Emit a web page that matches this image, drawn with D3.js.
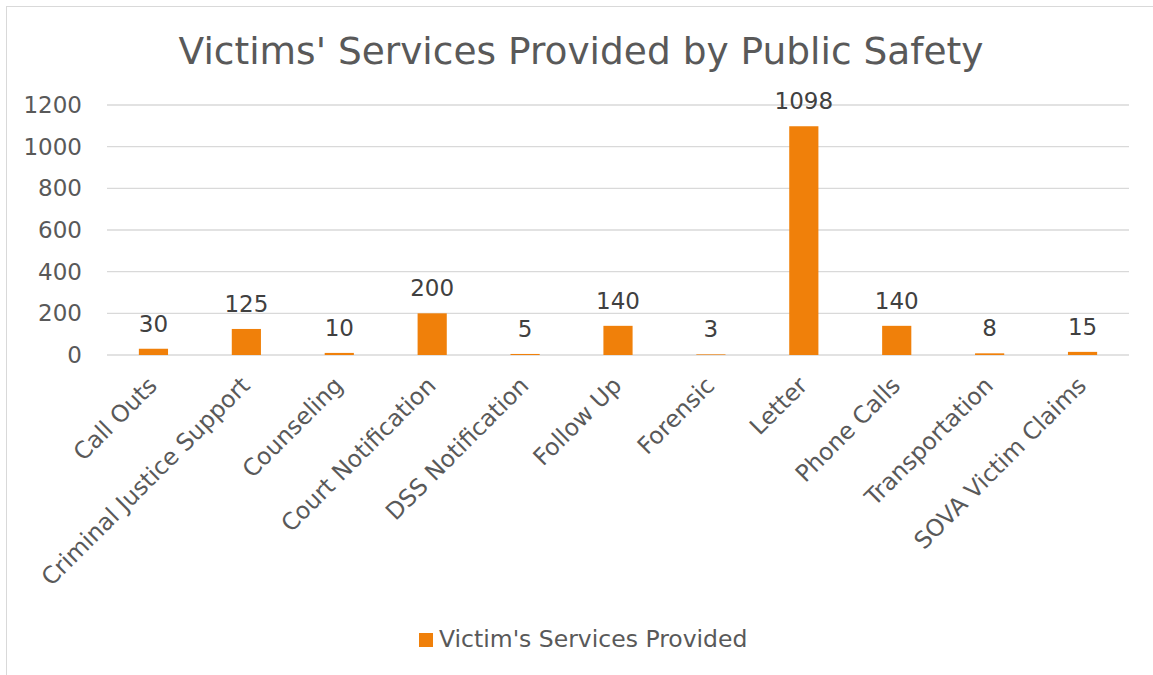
<!DOCTYPE html>
<html>
<head>
<meta charset="utf-8">
<script src="https://cdn.jsdelivr.net/npm/d3@7"></script>
<style>
  body { margin: 0; background: #fff; }
  text { font-family: "DejaVu Sans", Verdana, sans-serif; fill: #595959; }
</style>
</head>
<body>
<svg id="chart" width="1153" height="675"></svg>
<script>
const categories = ["Call Outs", "Criminal Justice Support", "Counseling", "Court Notification",
  "DSS Notification", "Follow Up", "Forensic", "Letter", "Phone Calls", "Transportation",
  "SOVA Victim Claims"];
const services = [30, 125, 10, 200, 5, 140, 3, 1098, 140, 8, 15];
const yTicks = [0, 200, 400, 600, 800, 1000, 1200];
const seriesName = "Victim's Services Provided";

const svg = d3.select("#chart");
const margin = { left: 107, right: 1129, top: 105, bottom: 355 };

// outer chart frame (right and bottom edges fall outside the picture)
svg.append("rect")
  .attr("x", 6.5).attr("y", 6.5)
  .attr("width", 1160).attr("height", 680)
  .attr("fill", "#fff")
  .attr("stroke", "#d9d9d9");

svg.append("text")
  .attr("x", 581).attr("y", 64)
  .attr("text-anchor", "middle")
  .style("font-size", "37.5px")
  .text("Victims' Services Provided by Public Safety");

const x = d3.scaleBand()
  .domain(categories)
  .range([margin.left, margin.right])
  .paddingInner(0.686)
  .paddingOuter(0.343);

const y = d3.scaleLinear()
  .domain([0, 1200])
  .range([margin.bottom, margin.top]);

// gridlines
svg.append("g")
  .selectAll("line")
  .data(yTicks)
  .join("line")
  .attr("x1", margin.left).attr("x2", margin.right)
  .attr("y1", d => y(d)).attr("y2", d => y(d))
  .attr("stroke", "#d9d9d9")
  .attr("stroke-width", 1.4);

const yAxis = svg.append("g")
  .attr("transform", `translate(${margin.left - 25},0)`)
  .call(d3.axisLeft(y).tickValues(yTicks).tickFormat(d3.format("d")).tickSize(0).tickPadding(0));
yAxis.select(".domain").remove();
yAxis.selectAll("text")
  .style("font-size", "23px")
  .style("font-family", "'DejaVu Sans', Verdana, sans-serif")
  .attr("fill", "#595959");

svg.append("g")
  .selectAll("rect")
  .data(services)
  .join("rect")
  .attr("x", (d, i) => x(categories[i]))
  .attr("width", x.bandwidth())
  .attr("y", d => y(d))
  .attr("height", d => y(0) - y(d))
  .attr("fill", "#f0800a");

// value labels
svg.append("g")
  .selectAll("text")
  .data(services)
  .join("text")
  .attr("x", (d, i) => x(categories[i]) + x.bandwidth() / 2)
  .attr("y", d => y(d) - 17)
  .attr("text-anchor", "middle")
  .style("font-size", "23px")
  .style("fill", "#404040")
  .text(d => d);

// category labels, rotated
const xAxis = svg.append("g")
  .attr("transform", `translate(0,${margin.bottom})`)
  .call(d3.axisBottom(x).tickSize(0).tickPadding(0));
xAxis.select(".domain").remove();
xAxis.selectAll("text")
  .style("font-size", "23.5px")
  .style("font-family", "'DejaVu Sans', Verdana, sans-serif")
  .attr("fill", "#595959")
  .attr("text-anchor", "end")
  .attr("dy", null)
  .attr("y", 0)
  .attr("transform", "translate(5,32) rotate(-45)");

// legend
const legend = svg.append("g").attr("transform", "translate(419,633)");
legend.append("rect").attr("width", 14).attr("height", 14).attr("fill", "#f0800a");
legend.append("text")
  .attr("x", 20).attr("y", 14)
  .style("font-size", "23.5px")
  .text(seriesName);
</script>
</body>
</html>
